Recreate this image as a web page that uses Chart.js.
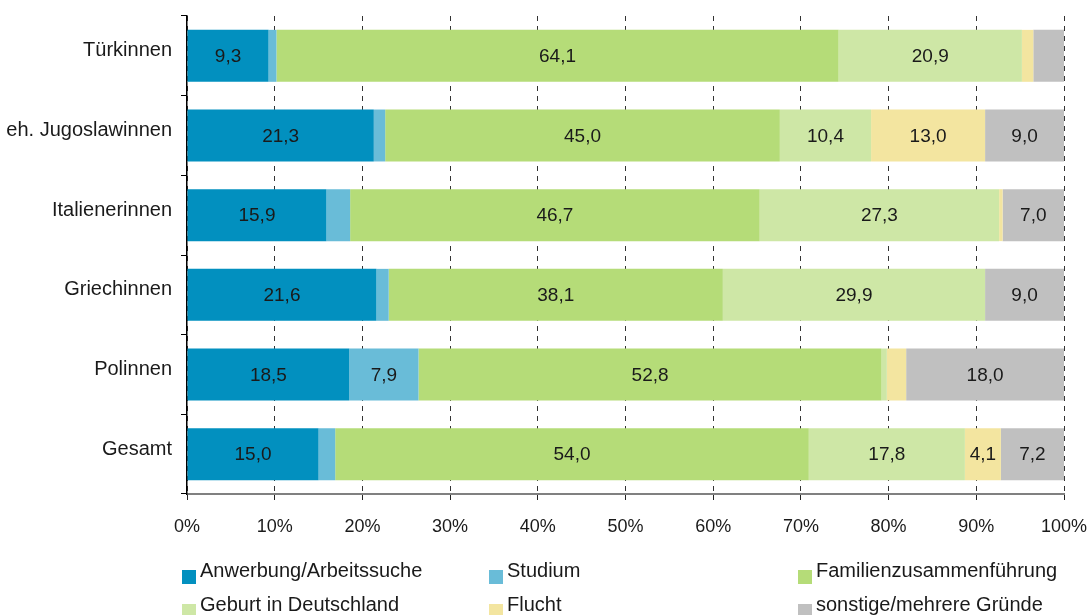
<!DOCTYPE html>
<html>
<head>
<meta charset="utf-8">
<script src="https://cdn.jsdelivr.net/npm/chart.js@4.4.1/dist/chart.umd.min.js"></script>
<style>
  html, body { margin: 0; padding: 0; background: #fff; }
  #wrap { position: relative; width: 1091px; height: 615px; overflow: hidden; }
  #c { position: absolute; left: 0; top: 0; }
  .lg { position: absolute; font-family: "Liberation Sans", Arial, sans-serif; font-size: 20px; line-height: 20px; color: #1a1a1a; white-space: nowrap; }
  .sq { position: absolute; width: 14px; height: 14px; }
</style>
</head>
<body>
<div id="wrap">
  <canvas id="c" width="1091" height="615"></canvas>
</div>
<script>
// ---- data ----
const categories = ["Türkinnen", "eh. Jugoslawinnen", "Italienerinnen", "Griechinnen", "Polinnen", "Gesamt"];
const seriesNames = ["Anwerbung/Arbeitssuche", "Studium", "Familienzusammenführung", "Geburt in Deutschland", "Flucht", "sonstige/mehrere Gründe"];
const anwerbung = [9.3, 21.3, 15.9, 21.6, 18.5, 15.0];
const studium   = [0.9, 1.3, 2.7, 1.4, 7.9, 1.9];
const familien  = [64.1, 45.0, 46.7, 38.1, 52.8, 54.0];
const geburt    = [20.9, 10.4, 27.3, 29.9, 0.6, 17.8];
const flucht    = [1.3, 13.0, 0.4, 0.0, 2.2, 4.1];
const sonstige  = [3.5, 9.0, 7.0, 9.0, 18.0, 7.2];
const colors = ["#0290bf", "#69bcd8", "#b5dc78", "#cee7a6", "#f3e5a0", "#c0c0c0"];
const xTicks = [0, 10, 20, 30, 40, 50, 60, 70, 80, 90, 100];

const seriesValues = [anwerbung, studium, familien, geburt, flucht, sonstige];
const FONT = '"Liberation Sans", Arial, sans-serif';

const labelPlugin = {
  id: 'barLabels',
  afterDatasetsDraw(chart) {
    const ctx = chart.ctx;
    ctx.save();
    ctx.font = '19px ' + FONT;
    ctx.fillStyle = '#1a1a1a';
    ctx.textAlign = 'center';
    ctx.textBaseline = 'middle';
    chart.data.datasets.forEach((ds, di) => {
      const meta = chart.getDatasetMeta(di);
      meta.data.forEach((el, i) => {
        const v = ds.data[i];
        if (v >= 4) {
          const cx = (el.x + el.base) / 2;
          ctx.fillText(v.toFixed(1).replace('.', ','), cx, el.y + 1);
        }
      });
    });
    ctx.restore();
  }
};

const chart = new Chart(document.getElementById('c'), {
  type: 'bar',
  data: {
    labels: categories,
    datasets: seriesNames.map((n, i) => ({
      label: n,
      data: seriesValues[i],
      backgroundColor: colors[i],
      borderWidth: 0,
      barPercentage: 0.652,
      categoryPercentage: 1.0
    }))
  },
  options: {
    indexAxis: 'y',
    responsive: false,
    animation: false,
    layout: { padding: { left: 0, right: 27, top: 16, bottom: 71 } },
    plugins: { legend: { display: false }, tooltip: { enabled: false } },
    scales: {
      x: {
        stacked: true,
        min: 0, max: 100,
        afterBuildTicks: (s) => { s.ticks = xTicks.map(v => ({ value: v })); },
        afterFit: (s) => { s.height = 50; s.paddingLeft = 0; s.paddingRight = 0; },
        ticks: {
          callback: (v) => v + '%',
          font: { family: FONT, size: 18 },
          color: '#1a1a1a',
          padding: 16,
          maxRotation: 0
        },
        grid: {
          color: '#333',
          lineWidth: 1,
          tickLength: 6,
          tickColor: '#222',
          tickBorderDash: []
        },
        border: { display: true, color: '#808080', width: 2, dash: [5, 5] }
      },
      y: {
        stacked: true,
        afterFit: (s) => { s.width = 187; s.paddingTop = 0; s.paddingBottom = 0; },
        ticks: {
          font: { family: FONT, size: 20 },
          color: '#1a1a1a',
          padding: 9,
          labelOffset: -5
        },
        grid: {
          offset: true,
          drawOnChartArea: false,
          tickLength: 6,
          color: '#000',
          tickColor: '#000'
        },
        border: { display: true, color: '#000', width: 1.5 }
      }
    }
  },
  plugins: [labelPlugin]
});

// ---- legend (HTML, built from the series arrays) ----
const wrap = document.getElementById('wrap');
const colX = [182, 489, 798];
const rowTextTop = [560, 594];
const rowSqTop = [570, 604];
seriesNames.forEach((n, i) => {
  const col = i % 3, row = Math.floor(i / 3);
  const sq = document.createElement('div');
  sq.className = 'sq';
  sq.style.left = colX[col] + 'px';
  sq.style.top = rowSqTop[row] + 'px';
  sq.style.background = colors[i];
  wrap.appendChild(sq);
  const t = document.createElement('div');
  t.className = 'lg';
  t.textContent = n;
  t.style.left = (colX[col] + 18) + 'px';
  t.style.top = rowTextTop[row] + 'px';
  wrap.appendChild(t);
});
</script>
</body>
</html>
